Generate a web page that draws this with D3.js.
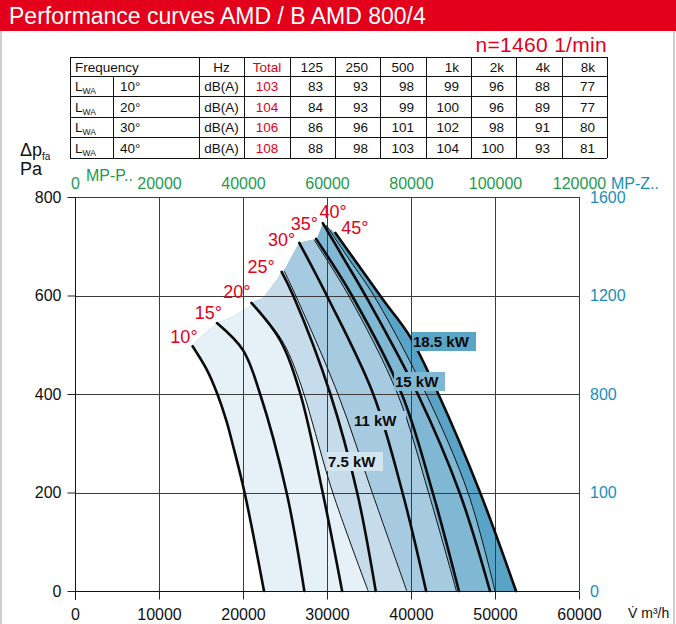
<!DOCTYPE html>
<html>
<head>
<meta charset="utf-8">
<script src="https://cdn.jsdelivr.net/npm/d3@7"></script>
<style>
  body { margin: 0; background: #fff; }
  svg { display: block; font-family: "Liberation Sans", Arial, sans-serif; }
</style>
</head>
<body>
<svg id="chart" width="676" height="624"></svg>
<script>
// ---- sound table ----
const tableHead = ['Frequency', 'Hz', 'Total', '125', '250', '500', '1k', '2k', '4k', '8k'];
const tableAngles = ['10°', '20°', '30°', '40°'];
const tableTotals = [103, 104, 106, 108];
const tableBands = [
  [83, 93, 98, 99, 96, 88, 77],
  [84, 93, 99, 100, 96, 89, 77],
  [86, 96, 101, 102, 98, 91, 80],
  [88, 98, 103, 104, 100, 93, 81]
];

// ---- axes ----
const xTicks = [0, 10000, 20000, 30000, 40000, 50000, 60000];
const yTicks = [0, 200, 400, 600, 800];
const topTicks = [0, 20000, 40000, 60000, 80000, 100000, 120000];
const rightTicks = [0, 400, 800, 1200, 1600];
const rightLabels = ['0', '100', '800', '1200', '1600'];

// ---- fan curves per blade angle, [m3/h, Pa] ----
const angleNames = ['10°', '15°', '20°', '25°', '30°', '35°', '40°', '45°'];
const curve10 = [[14000, 497], [15700, 449], [16900, 402], [18000, 347], [18800, 296], [20200, 199], [22500, 0]];
const curve15 = [[16900, 544], [20000, 489], [22000, 402], [25200, 199], [27300, 0]];
const curve20 = [[21000, 585], [24400, 510], [26800, 402], [29500, 199], [31800, 0]];
const curve25 = [[24600, 648], [26000, 599], [30400, 400], [33600, 199], [35800, 0]];
const curve30 = [[26700, 707], [30000, 599], [35500, 400], [39000, 199], [41800, 0]];
const curve35 = [[28700, 715], [33000, 599], [38900, 400], [42600, 199], [45700, 0]];
const curve40 = [[29500, 747], [32100, 672], [34600, 599], [40800, 400], [45800, 199], [49400, 0]];
const curve45 = [[31000, 727], [36700, 591], [39900, 516], [43200, 402], [48200, 201], [52500, 0]];

// top edge of the working range (stall line)
const stallLine = [[14000, 497], [14600, 510], [16400, 536], [16900, 544], [18500, 554], [20800, 577],
  [21000, 585], [22400, 595], [24000, 631], [24600, 648], [25000, 654], [26400, 698], [26700, 707],
  [28800, 715], [29200, 733], [29500, 747], [31000, 727]];

// motor power limits (thin lines)
const powerNames = ['7.5 kW', '11 kW', '15 kW', '18.5 kW'];
const limit75 = [[21100, 585], [24600, 510], [26700, 428], [30700, 199], [34900, 0]];
const limit11 = [[24900, 650], [26300, 599], [31300, 400], [35400, 199], [39500, 0]];
const limit15 = [[28500, 712], [32600, 599], [38400, 400], [42100, 199], [45400, 0]];
const limit185 = [[29900, 743], [32700, 672], [35600, 599], [41800, 400], [46800, 199], [50000, 0]];

const red = '#e2001a';
const green = '#1f9a4c';
const teal = '#1a8dbb';
const zoneColors = ['#e5f0f7', '#c6dcea', '#a6cbe1', '#80b7d3', '#59a4c6'];
const labelColors = ['#d3e5ef', '#a8cde2', '#80b8d4', '#5aa4c6'];

const svg = d3.select('#chart');

// panel frame + header
svg.append('rect').attr('x', 1).attr('y', 30).attr('width', 673).attr('height', 600)
  .attr('fill', 'none').attr('stroke', '#cfcfcf').attr('stroke-width', 2);
svg.append('rect').attr('x', 0).attr('y', 0).attr('width', 676).attr('height', 31).attr('fill', red);
svg.append('text').attr('x', 9).attr('y', 24).attr('fill', '#fff').attr('font-size', 23)
  .text('Performance curves AMD / B AMD 800/4');
svg.append('text').attr('x', 607).attr('y', 52).attr('text-anchor', 'end').attr('fill', red)
  .attr('font-size', 21).attr('letter-spacing', 0.3).text('n=1460 1/min');

// ---- table ----
const colX = [70, 113, 199, 244, 290, 335, 380, 426, 471, 516, 562, 607];
const rowY = [57, 76, 96, 117, 137, 158];
const tbl = svg.append('g').attr('font-size', 13.5).attr('fill', '#111');
const tl = (x1, y1, x2, y2) => tbl.append('line').attr('x1', x1).attr('y1', y1).attr('x2', x2).attr('y2', y2)
  .attr('stroke', '#111').attr('stroke-width', 1);
rowY.forEach(r => tl(colX[0], r + 0.5, colX[11], r + 0.5));
colX.forEach((c, i) => tl(c + 0.5, i === 1 ? rowY[1] : rowY[0], c + 0.5, rowY[5]));

const mid = i => (rowY[i] + rowY[i + 1]) / 2 + 5;
tbl.append('text').attr('x', 75).attr('y', mid(0)).text(tableHead[0]);
tbl.append('text').attr('x', (colX[2] + colX[3]) / 2).attr('y', mid(0)).attr('text-anchor', 'middle').text(tableHead[1]);
tbl.append('text').attr('x', (colX[3] + colX[4]) / 2).attr('y', mid(0)).attr('text-anchor', 'middle').attr('fill', red).text(tableHead[2]);
tableHead.slice(3).forEach((h, j) => {
  tbl.append('text').attr('x', colX[j + 5] - 12).attr('y', mid(0)).attr('text-anchor', 'end').text(h);
});
tableAngles.forEach((a, i) => {
  const yy = mid(i + 1);
  const lw = tbl.append('text').attr('x', 75).attr('y', yy);
  lw.append('tspan').text('L');
  lw.append('tspan').attr('font-size', 8.5).attr('dy', 3).text('WA');
  tbl.append('text').attr('x', 120).attr('y', yy).text(a);
  tbl.append('text').attr('x', (colX[2] + colX[3]) / 2).attr('y', yy).attr('text-anchor', 'middle').text('dB(A)');
  tbl.append('text').attr('x', (colX[3] + colX[4]) / 2).attr('y', yy).attr('text-anchor', 'middle').attr('fill', red).text(tableTotals[i]);
  tableBands[i].forEach((v, j) => {
    tbl.append('text').attr('x', colX[j + 5] - 12).attr('y', yy).attr('text-anchor', 'end').text(v);
  });
});

// ---- chart ----
const x = d3.scaleLinear().domain([0, 60000]).range([75, 579]);
const y = d3.scaleLinear().domain([0, 800]).range([591, 197]);
const xTop = d3.scaleLinear().domain([0, 120000]).range([75, 579]);
const yRight = d3.scaleLinear().domain([0, 1600]).range([591, 197]);

const smooth = d3.line().x(d => x(d[0])).y(d => y(d[1])).curve(d3.curveCatmullRom.alpha(0.5));
const straight = d3.line().x(d => x(d[0])).y(d => y(d[1]));
const cont = s => s.replace(/^M/, 'L');

const lastOf = a => a[a.length - 1];
const envelope = straight(stallLine) + cont(smooth(curve45)) +
  cont(straight([lastOf(curve45), lastOf(curve10)])) + cont(smooth(curve10.slice().reverse())) + 'Z';

const leftOf = t => smooth(t) +
  `L${x(lastOf(t)[0])},${y(0) + 20}L${x(0) - 20},${y(0) + 20}L${x(0) - 20},${y(900)}L${x(t[0][0])},${y(900)}Z`;

svg.append('defs').append('clipPath').attr('id', 'env-clip').append('path').attr('d', envelope);

const zones = svg.append('g').attr('clip-path', 'url(#env-clip)');
zones.append('path').attr('d', envelope).attr('fill', zoneColors[4]);
[limit185, limit15, limit11, limit75].forEach((t, i) => {
  zones.append('path').attr('d', leftOf(t)).attr('fill', zoneColors[3 - i]);
});

// grid
const grid = svg.append('g').attr('stroke', '#3c3c3c').attr('stroke-width', 1);
xTicks.forEach(v => grid.append('line').attr('x1', Math.round(x(v)) + 0.5).attr('x2', Math.round(x(v)) + 0.5)
  .attr('y1', y(800)).attr('y2', y(0)));
yTicks.forEach(v => grid.append('line').attr('x1', x(0)).attr('x2', x(60000))
  .attr('y1', Math.round(y(v)) + 0.5).attr('y2', Math.round(y(v)) + 0.5));

// axes
const styleAxis = (g, color) => {
  g.select('.domain').remove();
  g.selectAll('text').attr('fill', color).attr('font-size', 16)
    .attr('font-family', '"Liberation Sans", Arial, sans-serif');
  g.selectAll('line').attr('stroke', '#222');
};
svg.append('g').attr('transform', `translate(0,${Math.round(y(0)) + 0.5})`)
  .call(d3.axisBottom(x).tickValues(xTicks).tickFormat(d3.format('d')).tickSize(8).tickPadding(9))
  .call(g => styleAxis(g, '#111'));
svg.append('g').attr('transform', `translate(${Math.round(x(0)) + 0.5},0)`)
  .call(d3.axisLeft(y).tickValues(yTicks).tickSize(8).tickPadding(6))
  .call(g => styleAxis(g, '#111'));
svg.append('line').attr('x1', Math.round(x(0)) + 0.5).attr('x2', Math.round(x(0)) + 0.5)
  .attr('y1', y(800)).attr('y2', y(0) + 9).attr('stroke', '#111');
svg.append('line').attr('x1', x(0)).attr('x2', x(60000))
  .attr('y1', Math.round(y(0)) + 0.5).attr('y2', Math.round(y(0)) + 0.5).attr('stroke', '#111').attr('stroke-width', 1.2);
svg.append('g').attr('transform', `translate(0,${y(800)})`)
  .call(d3.axisTop(xTop).tickValues(topTicks).tickFormat(d3.format('d')).tickSize(0).tickPadding(8))
  .call(g => styleAxis(g, green));
svg.append('g').attr('transform', `translate(${x(60000)},0)`)
  .call(d3.axisRight(yRight).tickValues(rightTicks).tickFormat((d, i) => rightLabels[i]).tickSize(0).tickPadding(11))
  .call(g => styleAxis(g, teal));

svg.append('text').attr('x', 86).attr('y', 181).attr('fill', green).attr('font-size', 16).text('MP-P..');
svg.append('text').attr('x', 611).attr('y', 189).attr('fill', teal).attr('font-size', 16).text('MP-Z..');
const dp = svg.append('text').attr('x', 20).attr('y', 156).attr('font-size', 18).attr('fill', '#111');
dp.append('tspan').text('Δp');
dp.append('tspan').attr('font-size', 10).attr('dy', 4).text('fa');
svg.append('text').attr('x', 20).attr('y', 175).attr('font-size', 18).attr('fill', '#111').text('Pa');
svg.append('text').attr('x', 628).attr('y', 618).attr('font-size', 14).attr('fill', '#111').text('V\u0307 m³/h');

// curves
const curves = [curve10, curve15, curve20, curve25, curve30, curve35, curve40, curve45];
[limit75, limit11, limit15, limit185].forEach(t => {
  svg.append('path').attr('d', smooth(t)).attr('fill', 'none').attr('stroke', '#111').attr('stroke-width', 1);
});
curves.forEach(c => {
  svg.append('path').attr('d', smooth(c)).attr('fill', 'none').attr('stroke', '#0a0a0a')
    .attr('stroke-width', 2.6).attr('stroke-linecap', 'round');
});

// angle labels next to each curve start
const angleOffsets = [[5, -3], [5, -4], [-1, -5], [-7, 1], [-4, 3], [2, -9], [24, -5], [33, 1]];
curves.forEach((c, i) => {
  svg.append('text').attr('x', x(c[0][0]) + angleOffsets[i][0]).attr('y', y(c[0][1]) + angleOffsets[i][1])
    .attr('text-anchor', 'end').attr('fill', red).attr('font-size', 18).text(angleNames[i]);
});

// power labels
const powerBoxes = [[327, 452, 56], [353, 411, 53], [394, 372, 51], [412, 332, 64]];
powerNames.forEach((n, i) => {
  const [bx, by, bw] = powerBoxes[i];
  svg.append('rect').attr('x', bx).attr('y', by).attr('width', bw).attr('height', 19).attr('fill', labelColors[i]);
  svg.append('text').attr('x', bx + 1).attr('y', by + 15).attr('font-size', 15).attr('font-weight', 'bold')
    .attr('fill', '#0a0a0a').text(n);
});
</script>
</body>
</html>
